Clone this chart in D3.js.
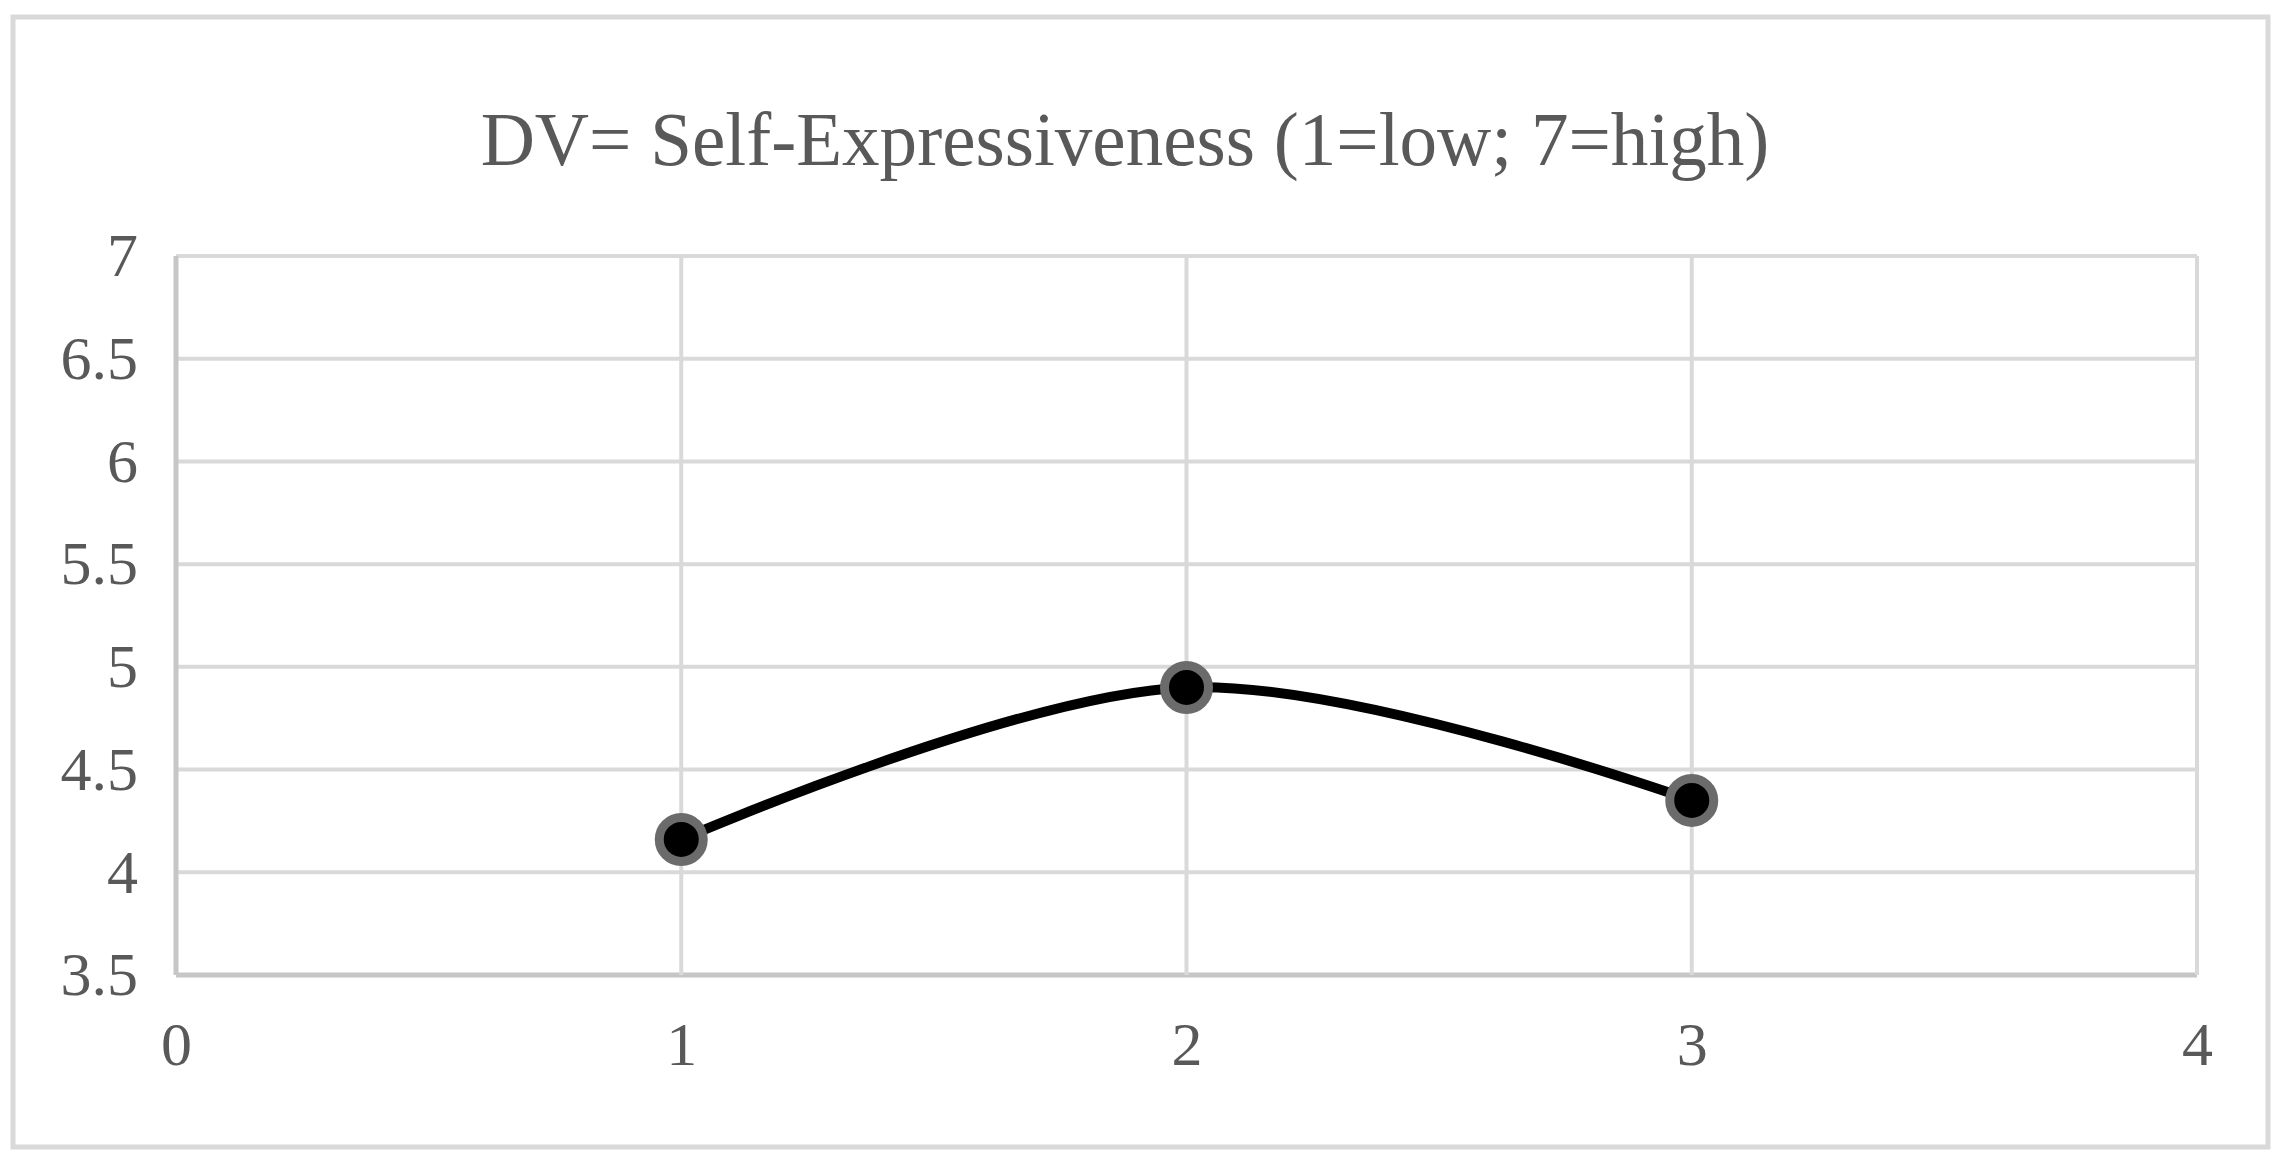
<!DOCTYPE html>
<html><head><meta charset="utf-8">
<script src="https://cdn.jsdelivr.net/npm/d3@7"></script>
<style>html,body{margin:0;padding:0;background:#fff;}svg{display:block;}</style>
</head><body>
<svg id="chart" width="2284" height="1168"></svg>
<script>
const titleText = "DV= Self-Expressiveness (1=low; 7=high)";
const xValues = [1, 2, 3];
const yValues = [4.16, 4.9, 4.35];
const xTicks = [0, 1, 2, 3, 4];
const yTicks = [3.5, 4, 4.5, 5, 5.5, 6, 6.5, 7];

(function () {
const svg = d3.select("#chart");
const font = "'Liberation Serif', 'DejaVu Serif', serif";
const textColor = "#595959";

// outer border
svg.append("rect").attr("x", 13).attr("y", 17).attr("width", 2255).attr("height", 1130)
  .attr("fill", "#fff").attr("stroke", "#d9d9d9").attr("stroke-width", 5);

const pLeft = 176, pRight = 2197, pTop = 256, pBottom = 975;
const x = d3.scaleLinear().domain([0, 4]).range([pLeft, pRight]);
const y = d3.scaleLinear().domain([3.5, 7]).range([pBottom, pTop]);

// gridlines
svg.append("g").selectAll("line").data(yTicks).join("line")
  .attr("x1", pLeft).attr("x2", pRight).attr("y1", d => y(d)).attr("y2", d => y(d))
  .attr("stroke", d => d === 3.5 ? "#c6c6c6" : "#d9d9d9").attr("stroke-width", d => d === 3.5 ? 5 : 4);
svg.append("g").selectAll("line").data(xTicks).join("line")
  .attr("x1", d => x(d)).attr("x2", d => x(d)).attr("y1", pTop).attr("y2", pBottom)
  .attr("stroke", d => d === 0 ? "#c6c6c6" : "#d9d9d9").attr("stroke-width", d => d === 0 ? 5 : 4);

// axes labels via d3 axes
const yAxis = svg.append("g").attr("transform", `translate(${pLeft},0)`)
  .call(d3.axisLeft(y).tickValues(yTicks).tickSize(0).tickPadding(38).tickFormat(d => String(d)));
const xAxis = svg.append("g").attr("transform", `translate(0,${pBottom})`)
  .call(d3.axisBottom(x).tickValues(xTicks).tickSize(0).tickPadding(46).tickFormat(d => String(d)));
[yAxis, xAxis].forEach(a => {
  a.select(".domain").remove();
  a.selectAll("text").attr("font-family", font).attr("font-size", 62).attr("fill", textColor);
});

// line
const line = d3.line().x(d => x(d[0])).y(d => y(d[1])).curve(d3.curveCardinal.tension(0));
const pts = xValues.map((v, i) => [v, yValues[i]]);
svg.append("path").datum(pts).attr("d", line)
  .attr("fill", "none").attr("stroke", "#000").attr("stroke-width", 10);

svg.append("g").selectAll("circle").data(pts).join("circle")
  .attr("cx", d => x(d[0])).attr("cy", d => y(d[1])).attr("r", 22)
  .attr("fill", "#000").attr("stroke", "#6b6b6b").attr("stroke-width", 9);

// title
const title = svg.append("text").attr("x", 1125).attr("y", 165)
  .attr("text-anchor", "middle").attr("font-family", font).attr("fill", textColor)
  .attr("font-size", 70).text(titleText);
const w = title.node().getComputedTextLength();
title.attr("font-size", 70 * 1289 / w);
})();
</script>
</body></html>
